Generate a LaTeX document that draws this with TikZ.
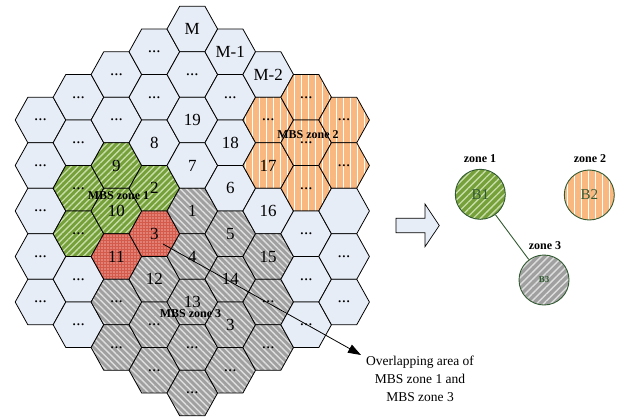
\documentclass[tikz,border=0pt]{standalone}
\usepackage{fontspec}
\setmainfont{Liberation Serif}
\usetikzlibrary{patterns,patterns.meta,arrows.meta}
\definecolor{cellblue}{RGB}{231,237,247}
\definecolor{zgreen}{RGB}{118,160,58}
\definecolor{zgreenlt}{RGB}{200,222,170}
\definecolor{zorange}{RGB}{248,184,128}
\definecolor{zgray}{RGB}{160,160,160}
\definecolor{zgraylt}{RGB}{222,222,222}
\definecolor{zred}{RGB}{212,90,76}
\definecolor{zredlt}{RGB}{240,170,160}
\definecolor{dgreen}{RGB}{50,90,50}
\newcommand\hexdots{...}
\begin{document}
\begin{tikzpicture}[x=1pt,y=-1pt,line join=round,
  cellfont/.style={font=\fontsize{17}{17}\selectfont},
  zonefont/.style={font=\fontsize{12}{12}\selectfont\bfseries},
  hexL/.style={fill=cellblue},
  hexG/.style={preaction={fill=zgreen},pattern={Lines[angle=45,distance=4.5pt,line width=1.3pt]},pattern color=zgreenlt},
  hexR/.style={preaction={fill=zred},pattern={Dots[distance=3pt,radius=0.9pt]},pattern color=zredlt},
  hexY/.style={preaction={fill=zgray},pattern={Lines[angle=-45,distance=4.5pt,line width=1.4pt]},pattern color=zgraylt},
  hexO/.style={preaction={fill=zorange},pattern={Lines[angle=90,distance=7pt,line width=0.9pt]},pattern color=white},
  cellline/.style={draw=black,line width=0.8pt},
  bcirc/.style={circle,minimum size=50pt,inner sep=0pt,draw=dgreen,line width=0.9pt},
  ptr/.style={line width=0.8pt,-{Triangle[length=13pt,width=9pt]}}
]
\useasboundingbox (0,0) rectangle (619,416);
\foreach \c/\t/\s/\l [count=\i] in {
 -4/-2/hexL/\hexdots, -4/-1/hexL/\hexdots, -4/0/hexL/\hexdots, -4/1/hexL/\hexdots, -4/2/hexL/\hexdots,
 -3/-2.5/hexL/\hexdots, -3/-1.5/hexL/\hexdots, -3/-0.5/hexG/\hexdots, -3/0.5/hexG/\hexdots, -3/1.5/hexL/\hexdots, -3/2.5/hexL/\hexdots,
 -2/-3/hexL/\hexdots, -2/-2/hexL/\hexdots, -2/-1/hexG/9, -2/0/hexG/10, -2/1/hexR/11, -2/2/hexY/\hexdots, -2/3/hexY/\hexdots,
 -1/-3.5/hexL/\hexdots, -1/-2.5/hexL/\hexdots, -1/-1.5/hexL/8, -1/-0.5/hexG/2, -1/0.5/hexR/3, -1/1.5/hexY/12, -1/2.5/hexY/\hexdots, -1/3.5/hexY/\hexdots,
 0/-4/hexL/M, 0/-3/hexL/\hexdots, 0/-2/hexL/19, 0/-1/hexL/7, 0/0/hexY/1, 0/1/hexY/4, 0/2/hexY/13, 0/3/hexY/\hexdots, 0/4/hexY/\hexdots,
 1/-3.5/hexL/M-1, 1/-2.5/hexL/\hexdots, 1/-1.5/hexL/18, 1/-0.5/hexL/6, 1/0.5/hexY/5, 1/1.5/hexY/14, 1/2.5/hexY/3, 1/3.5/hexY/\hexdots,
 2/-3/hexL/M-2, 2/-2/hexO/\hexdots, 2/-1/hexO/17, 2/0/hexL/16, 2/1/hexY/15, 2/2/hexY/\hexdots, 2/3/hexY/\hexdots,
 3/-2.5/hexO/\hexdots, 3/-1.5/hexO/\hexdots, 3/-0.5/hexO/\hexdots, 3/0.5/hexL/\hexdots, 3/1.5/hexL/\hexdots, 3/2.5/hexL/\hexdots,
 4/-2/hexO/\hexdots, 4/-1/hexO/\hexdots, 4/0/hexL/{}, 4/1/hexL/\hexdots, 4/2/hexL/\hexdots}{
  \pgfmathsetmacro\xx{192.3+37.95*\c}
  \pgfmathsetmacro\yy{211+45.5*\t}
  \path[style=\s,cellline] (\xx+25.3,\yy) -- ++(-12.65,22.75) -- ++(-25.3,0) -- ++(-12.65,-22.75) -- ++(12.65,-22.75) -- ++(25.3,0) -- cycle;
  \node[cellfont] (cell\i) at (\xx,\yy) {\l};
}
\node[zonefont] (z1) at (118.5,195.5) {MBS zone 1};
\node[zonefont] (z2) at (308,135) {MBS zone 2};
\node[zonefont] (z3) at (190.5,314) {MBS zone 3};
% overlap pointer
\coordinate (ovstart) at (163,244);
\node[font=\fontsize{13.5}{18}\selectfont,align=center] (ovtext) at (420,379) {Overlapping area of\\MBS zone 1 and\\MBS zone 3};
\coordinate (ovtip) at (361,355);
\draw[ptr] (ovstart) -- (ovtip);
% block arrow
\draw[fill=cellblue,line width=0.7pt,line join=miter] (396,218.3) -- (425,218.3) -- (425,204) -- (439.3,225.5) -- (425,246.7) -- (425,232.7) -- (396,232.7) -- cycle;
% zone circles
\node[bcirc,preaction={fill=zgreen},pattern={Lines[angle=45,distance=5pt,line width=1.3pt]},pattern color=zgreenlt,text=dgreen,font=\fontsize{15}{15}\selectfont] (B1) at (480.3,194.3) {B1};
\node[bcirc,preaction={fill=zorange},pattern={Lines[angle=90,distance=7pt,line width=0.9pt]},pattern color=white,text=dgreen,font=\fontsize{15}{15}\selectfont] (B2) at (589.3,195) {B2};
\node[bcirc,preaction={fill=zgray},pattern={Lines[angle=45,distance=5pt,line width=1.4pt]},pattern color=zgraylt,text=dgreen,font=\fontsize{9}{9}\selectfont\bfseries] (B3) at (544,280) {B3};
\draw[dgreen,line width=0.9pt] (B1) -- (B3);
\node[zonefont] (lz1) at (480,159) {zone 1};
\node[zonefont] (lz2) at (590,159) {zone 2};
\node[zonefont] (lz3) at (545,246) {zone 3};
\end{tikzpicture}
\end{document}
